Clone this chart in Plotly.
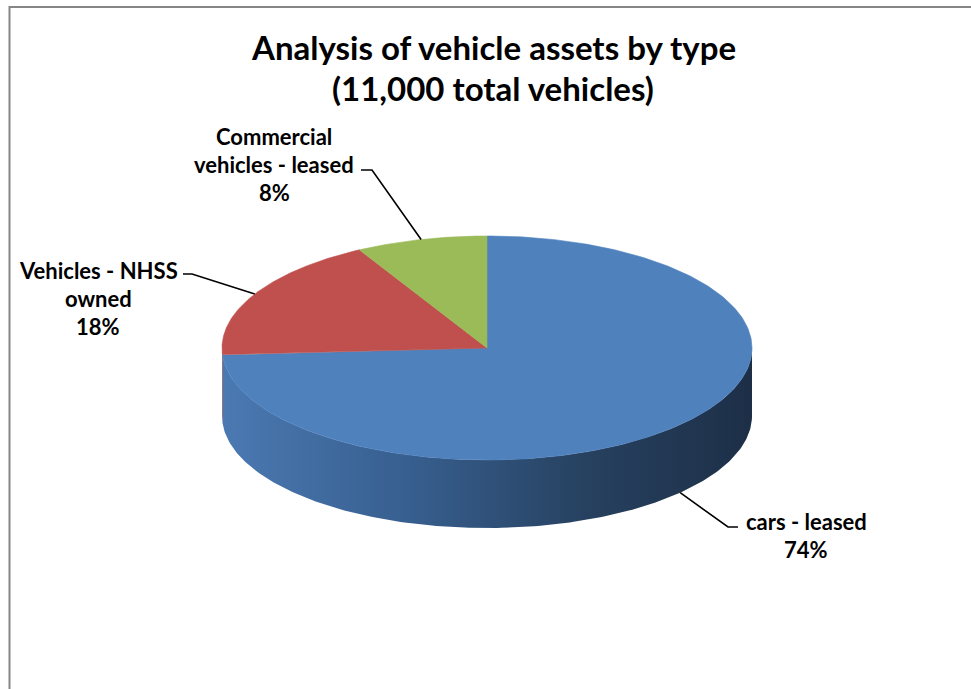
import numpy as np
import plotly.graph_objects as go

# ---- data -------------------------------------------------------------
categories = ["cars - leased", "Vehicles - NHSS owned", "Commercial vehicles - leased"]
shares = [74, 18, 8]          # percent of the 11,000 vehicles
title_lines = ["Analysis of vehicle assets by type", "(11,000 total vehicles)"]

# ---- styling ----------------------------------------------------------
top_colors = ["#4f81bd", "#c0504d", "#9bbb59"]
side_scales = [
    [[0, "#4b79b2"], [0.35, "#375f8f"], [0.7, "#26405e"], [1, "#1d2f47"]],
    [[0, "#a9433f"], [1, "#7d302d"]],
    [[0, "#82a048"], [1, "#5f7a33"]],
]
W, H = 971, 689
CX, CY = 487, 348        # centre of the top face (pixels)
RA, RB = 265, 112        # ellipse semi-axes
DEPTH = 68               # thickness of the disc
FONT = "Lato"


def rim(theta_deg, drop=0.0):
    t = np.radians(theta_deg)
    return CX + RA * np.sin(t), CY - RB * np.cos(t) + drop


fig = go.Figure()

total = float(sum(shares))
starts = np.concatenate([[0], np.cumsum(shares)[:-1]]) / total * 360
ends = np.cumsum(shares) / total * 360

# side walls (only the front half, 90..270 deg clockwise from 12 o'clock)
for i in range(len(shares)):
    a0, a1 = max(starts[i], 90), min(ends[i], 270)
    if a1 <= a0:
        continue
    th = np.linspace(a0, a1, 200)
    xs_t, ys_t = rim(th)
    xs_b, ys_b = rim(th[::-1], DEPTH)
    fig.add_trace(go.Scatter(
        x=np.concatenate([xs_t, xs_b, xs_t[:1]]),
        y=np.concatenate([ys_t, ys_b, ys_t[:1]]),
        mode="lines", line=dict(width=0), fill="toself",
        fillgradient=dict(type="horizontal", colorscale=side_scales[i]),
        hoverinfo="skip", showlegend=False))

# top faces
for i in range(len(shares)):
    th = np.linspace(starts[i], ends[i], 300)
    xs, ys = rim(th)
    fig.add_trace(go.Scatter(
        x=np.concatenate([[CX], xs, [CX]]),
        y=np.concatenate([[CY], ys, [CY]]),
        mode="lines", line=dict(width=0.6, color=top_colors[i]),
        fill="toself", fillcolor=top_colors[i],
        hoverinfo="skip", showlegend=False, name=categories[i]))

# data labels with leader lines
label_text = [
    ["cars - leased", f"{shares[0]}%"],
    ["Vehicles - NHSS", "owned", f"{shares[1]}%"],
    ["Commercial", "vehicles - leased", f"{shares[2]}%"],
]
label_pos = [(806, 521), (98, 270), (274, 136)]   # centre of first line
elbow = [((728, 527), (738, 527)), ((192, 274), (183, 274)), ((372, 170), (361, 170))]
LINE_STEP = 28

for i in range(len(shares)):
    mid = (starts[i] + ends[i]) / 2
    front = 90 < mid < 270
    ax, ay = rim(mid, DEPTH if front else 0)
    (ex, ey), (hx, hy) = elbow[i]
    fig.add_trace(go.Scatter(
        x=[ax, ex, hx], y=[ay, ey, hy], mode="lines",
        line=dict(color="black", width=1.6),
        hoverinfo="skip", showlegend=False))
    lx, ly = label_pos[i]
    for k, t in enumerate(label_text[i]):
        fig.add_annotation(x=lx, y=ly + k * LINE_STEP, text=f"<b>{t}</b>",
                           showarrow=False, xanchor="center", yanchor="middle",
                           font=dict(family=FONT, size=22, color="black"))

# title
for k, t in enumerate(title_lines):
    fig.add_annotation(x=493, y=47 + k * 41, text=f"<b>{t}</b>", showarrow=False,
                       xanchor="center", yanchor="middle",
                       font=dict(family=FONT, size=33, color="black"))

# chart area border
fig.add_shape(type="rect", x0=9.5, y0=7, x1=W + 20, y1=H + 20,
              line=dict(color="#868686", width=2), fillcolor="rgba(0,0,0,0)")

fig.update_layout(
    width=W, height=H, margin=dict(l=0, r=0, t=0, b=0),
    paper_bgcolor="white", plot_bgcolor="white",
    xaxis=dict(range=[0, W], visible=False, fixedrange=True),
    yaxis=dict(range=[H, 0], visible=False, fixedrange=True),
    showlegend=False,
)

fig.write_html("out.html")
